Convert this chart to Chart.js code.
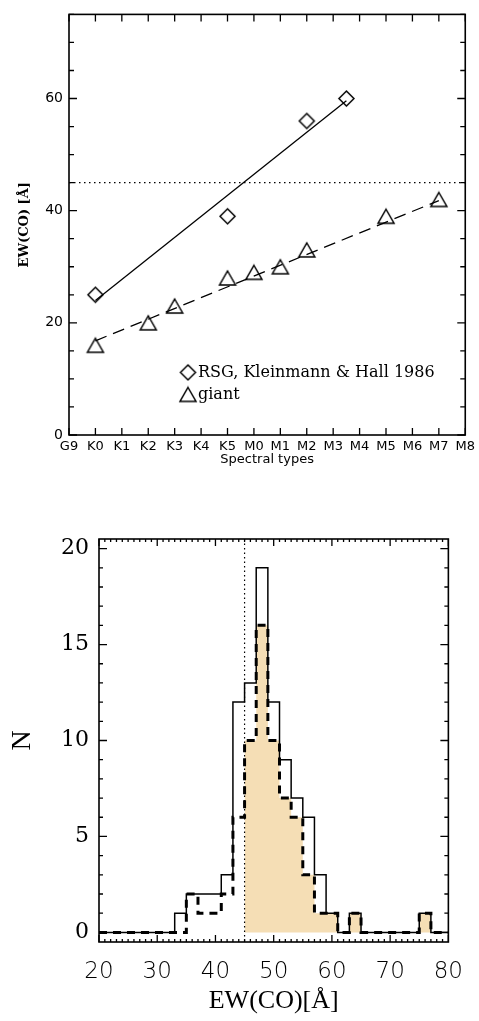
<!DOCTYPE html>
<html>
<head>
<meta charset="utf-8">
<script src="https://cdn.jsdelivr.net/npm/chart.js@4/dist/chart.umd.min.js"></script>
<style>
  html, body { margin: 0; padding: 0; background: #fff; }
  #topChart { position: absolute; left: 0; top: 0; }
  #bottomChart { position: absolute; left: 0; top: 480px; }
</style>
</head>
<body>
<canvas id="topChart" width="479" height="480"></canvas>
<canvas id="bottomChart" width="479" height="541"></canvas>
<script>
// ---- top panel: EW(CO) vs spectral type ----
const spectralTypes = ['G9', 'K0', 'K1', 'K2', 'K3', 'K4', 'K5', 'M0', 'M1', 'M2', 'M3', 'M4', 'M5', 'M6', 'M7', 'M8'];
const rsgX = [1, 6, 9, 10.5];           // K0, K5, M2, M3.5
const rsgEW = [25, 39, 56, 60];
const giantX = [1, 3, 4, 6, 7, 8, 9, 12, 14];
const giantEW = [16, 20, 23, 28, 29, 30, 33, 39, 42];
const rsgFitX = [1, 10.5];
const rsgFitEW = [24, 59.6];
const giantFitX = [1, 14];
const giantFitEW = [16.8, 41.8];
const ewLimit = 45;

// ---- bottom panel: histogram of EW(CO) ----
const binCenters = [20, 22, 24, 26, 28, 30, 32, 34, 36, 38, 40, 42, 44, 46, 48, 50, 52, 54, 56, 58, 60, 62, 64, 66, 68, 70, 72, 74, 76, 78, 80];
const countsAll = [0, 0, 0, 0, 0, 0, 0, 1, 2, 2, 2, 3, 12, 13, 19, 12, 9, 7, 6, 3, 1, 0, 1, 0, 0, 0, 0, 0, 1, 0, 0];
const countsSub = [0, 0, 0, 0, 0, 0, 0, 0, 2, 1, 1, 2, 6, 10, 16, 10, 7, 6, 3, 1, 1, 0, 1, 0, 0, 0, 0, 0, 1, 0, 0];

const toPoints = (xs, ys) => xs.map((x, i) => ({ x: x, y: ys[i] }));

// open markers, drawn once and used as point styles
function markerImage(kind, w, h, lw) {
    const c = document.createElement('canvas');
    c.width = w + 4;
    c.height = h + 4;
    const g = c.getContext('2d');
    const cx = c.width / 2, cy = c.height / 2;
    g.strokeStyle = '#000';
    g.lineWidth = lw;
    g.beginPath();
    if (kind === 'diamond') {
        g.moveTo(cx, cy - h / 2);
        g.lineTo(cx + w / 2, cy);
        g.lineTo(cx, cy + h / 2);
        g.lineTo(cx - w / 2, cy);
    } else {
        g.moveTo(cx, cy - h / 2);
        g.lineTo(cx + w / 2, cy + h / 2);
        g.lineTo(cx - w / 2, cy + h / 2);
    }
    g.closePath();
    g.stroke();
    return c;
}
const diamondImg = markerImage('diamond', 15, 15, 1.5);
const triangleImg = markerImage('triangle', 16, 14, 1.5);

// inward ticks on all four sides plus the box
const frameTicks = {
    id: 'frameTicks',
    afterDatasetsDraw(chart, args, o) {
        const { ctx, chartArea: a, scales } = chart;
        ctx.save();
        ctx.strokeStyle = '#000';
        ctx.lineWidth = 1.3;
        ctx.setLineDash([]);
        ctx.beginPath();
        const run = (scale, minor, major, minorLen, majorLen, horiz) => {
            const start = Math.ceil(scale.min / minor - 1e-9);
            for (let k = start; k * minor <= scale.max + 1e-9; k++) {
                const v = k * minor;
                const r = v / major;
                const len = Math.abs(r - Math.round(r)) < 1e-6 ? majorLen : minorLen;
                const p = scale.getPixelForValue(v);
                if (horiz) {
                    ctx.moveTo(p, a.bottom); ctx.lineTo(p, a.bottom - len);
                    ctx.moveTo(p, a.top); ctx.lineTo(p, a.top + len);
                } else {
                    ctx.moveTo(a.left, p); ctx.lineTo(a.left + len, p);
                    ctx.moveTo(a.right, p); ctx.lineTo(a.right - len, p);
                }
            }
        };
        run(scales.x, o.xMinor, o.xMajor, o.xMinorLen, o.xMajorLen, true);
        run(scales.y, o.yMinor, o.yMajor, o.yMinorLen, o.yMajorLen, false);
        ctx.stroke();
        ctx.lineWidth = 1.6;
        ctx.strokeRect(a.left, a.top, a.right - a.left, a.bottom - a.top);
        ctx.restore();
    }
};

// dotted reference line at EW = 45
const refLine = {
    id: 'refLine',
    afterDatasetsDraw(chart, args, o) {
        const { ctx, chartArea: a } = chart;
        const scale = chart.scales[o.axis];
        const p = scale.getPixelForValue(o.value);
        ctx.save();
        ctx.strokeStyle = '#000';
        ctx.lineWidth = 1.2;
        ctx.setLineDash(o.dash);
        ctx.beginPath();
        if (o.axis === 'y') { ctx.moveTo(a.left, p); ctx.lineTo(a.right, p); }
        else { ctx.moveTo(p, a.top); ctx.lineTo(p, a.bottom); }
        ctx.stroke();
        ctx.restore();
    }
};

// legend inside the plot, taken from the marker datasets
const markerLegend = {
    id: 'markerLegend',
    afterDraw(chart, args, o) {
        const { ctx, chartArea: a } = chart;
        ctx.save();
        ctx.fillStyle = '#000';
        ctx.font = o.font;
        ctx.textBaseline = 'alphabetic';
        chart.data.datasets.filter(d => d.inLegend).forEach((d, i) => {
            const y = a.top + o.top + i * o.rowGap;
            const img = d.pointStyle;
            ctx.drawImage(img, a.left + o.left - img.width / 2, y - img.height / 2);
            ctx.fillText(d.label, a.left + o.left + o.textGap, y + 5);
        });
        ctx.restore();
    }
};

const black = '#000';

new Chart(document.getElementById('topChart'), {
    type: 'scatter',
    data: {
        datasets: [
            { label: 'RSG, Kleinmann & Hall 1986', inLegend: true, data: toPoints(rsgX, rsgEW), pointStyle: diamondImg, pointRadius: 7, order: 0 },
            { label: 'giant', inLegend: true, data: toPoints(giantX, giantEW), pointStyle: triangleImg, pointRadius: 7, order: 0 },
            { label: 'RSG fit', data: toPoints(rsgFitX, rsgFitEW), showLine: true, borderColor: black, borderWidth: 1.3, pointRadius: 0, order: 1 },
            { label: 'giant fit', data: toPoints(giantFitX, giantFitEW), showLine: true, borderColor: black, borderWidth: 1.3, borderDash: [12, 7], pointRadius: 0, order: 1 }
        ]
    },
    options: {
        responsive: false,
        animation: false,
        devicePixelRatio: 1,
        layout: { padding: { left: 0, right: 13, top: 5, bottom: 0 } },
        plugins: {
            legend: { display: false },
            tooltip: { enabled: false },
            frameTicks: { xMinor: 1, xMajor: 1, xMinorLen: 7, xMajorLen: 7, yMinor: 5, yMajor: 20, yMinorLen: 5, yMajorLen: 8 },
            refLine: { axis: 'y', value: ewLimit, dash: [1.5, 3.5] },
            markerLegend: { left: 119, top: 358, rowGap: 22, textGap: 10, font: '16px "DejaVu Serif"' }
        },
        scales: {
            x: {
                type: 'linear', min: 0, max: 15,
                grid: { display: false, drawTicks: false },
                border: { display: false },
                ticks: {
                    stepSize: 1, autoSkip: false, maxRotation: 0, padding: 4, color: black,
                    font: { family: 'DejaVu Sans', size: 13 },
                    callback: v => spectralTypes[v] !== undefined ? spectralTypes[v] : ''
                },
                title: { display: true, text: 'Spectral types', color: black, font: { family: 'DejaVu Sans', size: 13 }, padding: { top: 0, bottom: 13 } },
                afterFit: s => { s.height = 45; }
            },
            y: {
                type: 'linear', min: 0, max: 75,
                grid: { display: false, drawTicks: false },
                border: { display: false },
                ticks: {
                    stepSize: 5, padding: 6, color: black,
                    font: { family: 'DejaVu Sans', size: 14 },
                    callback: v => v % 20 === 0 ? v : ''
                },
                title: { display: true, text: 'EW(CO) [Å]', color: black, font: { family: 'DejaVu Serif', size: 13, weight: 'bold' }, padding: { top: 17, bottom: 0 } },
                afterFit: s => { s.width = 69; }
            }
        }
    },
    plugins: [refLine, frameTicks, markerLegend]
});

// filled part: sub-sample above the EW limit
const fillX = [ewLimit].concat(binCenters.filter(c => c > ewLimit));
const fillY = [countsSub[binCenters.findIndex(c => c > ewLimit)]].concat(countsSub.filter((n, i) => binCenters[i] > ewLimit));

new Chart(document.getElementById('bottomChart'), {
    type: 'line',
    data: {
        datasets: [
            { label: 'fill', data: toPoints(fillX, fillY), stepped: 'middle', fill: 'origin', backgroundColor: '#F5DEB5', borderColor: 'rgba(0,0,0,0)', borderWidth: 0, pointRadius: 0, order: 3 },
            { label: 'all', data: toPoints(binCenters, countsAll), stepped: 'middle', fill: false, borderColor: black, borderWidth: 1.5, pointRadius: 0, order: 2 },
            { label: 'sub', data: toPoints(binCenters, countsSub), stepped: 'middle', fill: false, borderColor: black, borderWidth: 3, borderDash: [8, 6], pointRadius: 0, order: 1 }
        ]
    },
    options: {
        responsive: false,
        animation: false,
        devicePixelRatio: 1,
        layout: { padding: { left: 0, right: 22, top: 59, bottom: 0 } },
        plugins: {
            legend: { display: false },
            tooltip: { enabled: false },
            frameTicks: { xMinor: 1, xMajor: 10, xMinorLen: 3, xMajorLen: 7, yMinor: 1, yMajor: 5, yMinorLen: 4, yMajorLen: 8 },
            refLine: { axis: 'x', value: ewLimit, dash: [1.5, 3] }
        },
        scales: {
            x: {
                type: 'linear', min: 20, max: 80,
                grid: { display: false, drawTicks: false },
                border: { display: false },
                ticks: { stepSize: 10, autoSkip: false, maxRotation: 0, padding: 16, color: black, font: { family: 'DejaVu Sans', size: 23, weight: '200' } },
                title: { display: true, text: 'EW(CO)[Å]', color: black, font: { family: 'Liberation Serif', size: 26 }, padding: { top: 0, bottom: 4 } },
                afterFit: s => { s.height = 79; }
            },
            y: {
                type: 'linear', min: -0.5, max: 20.5,
                grid: { display: false, drawTicks: false },
                border: { display: false },
                ticks: {
                    stepSize: 5, includeBounds: false, padding: 10, color: black,
                    font: { family: 'DejaVu Serif', size: 22, weight: '200' },
                    callback: v => v % 5 === 0 ? v : ''
                },
                title: { display: true, text: 'N', color: black, font: { family: 'Liberation Serif', size: 28 }, padding: { top: 6, bottom: 0 } },
                afterFit: s => { s.width = 99; }
            }
        }
    },
    plugins: [frameTicks, refLine]
});
</script>
</body>
</html>
